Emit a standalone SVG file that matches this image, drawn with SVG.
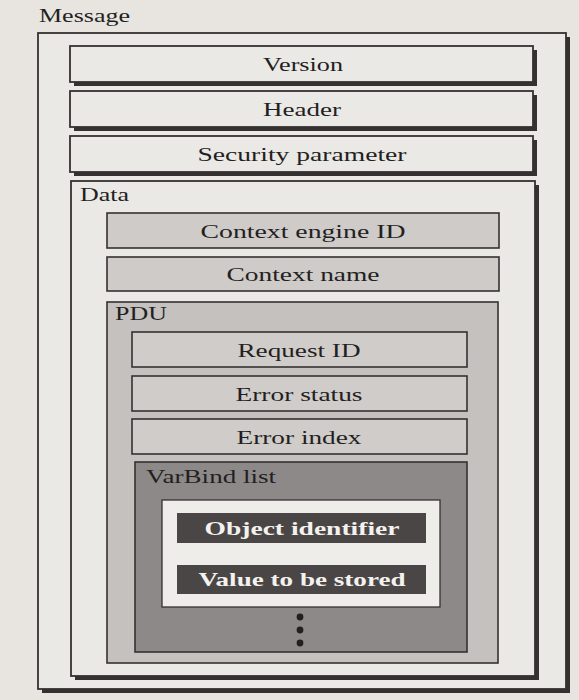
<svg xmlns="http://www.w3.org/2000/svg" width="579" height="700" viewBox="0 0 579 700">
  <defs>
    <style>
      .lbl { font-family: "Liberation Serif", "Times New Roman", serif; font-size: 19px; fill: #241f1f; }
      .ctr { text-anchor: middle; }
      .inv { font-family: "Liberation Serif", "Times New Roman", serif; font-size: 19px; font-weight: bold; fill: #f4f2ef; text-anchor: middle; }
      .shadow { fill: #363131; }
      .plain { fill: #ebe9e6; stroke: #363131; stroke-width: 1.8; }
      .tint { fill: #cecbc9; stroke: #363131; stroke-width: 1.6; }
      .pdu { fill: #c4c1bf; stroke: #363131; stroke-width: 1.6; }
      .field { fill: #cfccca; stroke: #363131; stroke-width: 1.6; }
      .varbind { fill: #8d8989; stroke: #363131; stroke-width: 1.6; }
      .pair { fill: #efedea; stroke: #363131; stroke-width: 1.3; }
      .dark { fill: #4b4646; }
      .dot { fill: #241f1f; }
    </style>
  </defs>

  <!-- paper -->
  <rect x="0" y="0" width="579" height="700" fill="#e8e5e1"/>

  <!-- labels are set in a wide face: each text is stretched 1.4x horizontally -->

  <!-- outer message frame -->
  <g id="message">
    <text class="lbl" transform="translate(39 22) scale(1.4 1)" textLength="65" lengthAdjust="spacingAndGlyphs">Message</text>
    <rect class="shadow" x="42" y="37" width="528" height="656"/>
    <rect class="plain" x="38" y="33" width="528" height="656"/>
  </g>

  <g id="version">
    <rect class="shadow" x="74" y="50" width="463" height="36"/>
    <rect class="plain" x="70" y="46" width="463" height="36"/>
    <text class="lbl ctr" transform="translate(303 71) scale(1.4 1)" textLength="57.1" lengthAdjust="spacingAndGlyphs">Version</text>
  </g>

  <g id="header">
    <rect class="shadow" x="74" y="95" width="463" height="36"/>
    <rect class="plain" x="70" y="91" width="463" height="36"/>
    <text class="lbl ctr" transform="translate(302 116) scale(1.4 1)" textLength="55.7" lengthAdjust="spacingAndGlyphs">Header</text>
  </g>

  <g id="security-parameter">
    <rect class="shadow" x="74" y="140" width="463" height="36"/>
    <rect class="plain" x="70" y="136" width="463" height="36"/>
    <text class="lbl ctr" transform="translate(302 161) scale(1.4 1)" textLength="149.3" lengthAdjust="spacingAndGlyphs">Security parameter</text>
  </g>

  <!-- data section -->
  <g id="data">
    <rect class="shadow" x="75" y="185" width="464" height="495"/>
    <rect class="plain" x="71" y="181" width="464" height="495"/>
    <text class="lbl" transform="translate(80 201) scale(1.4 1)" textLength="35" lengthAdjust="spacingAndGlyphs">Data</text>
  </g>

  <g id="context-engine-id">
    <rect class="tint" x="107" y="213" width="392" height="35"/>
    <text class="lbl ctr" transform="translate(303 238) scale(1.4 1)" textLength="146.4" lengthAdjust="spacingAndGlyphs">Context engine ID</text>
  </g>

  <g id="context-name">
    <rect class="tint" x="107" y="257" width="392" height="34"/>
    <text class="lbl ctr" transform="translate(303 281) scale(1.4 1)" textLength="109.3" lengthAdjust="spacingAndGlyphs">Context name</text>
  </g>

  <!-- PDU section -->
  <g id="pdu">
    <rect class="pdu" x="107" y="302" width="391" height="361"/>
    <text class="lbl" transform="translate(115 320) scale(1.4 1)" textLength="37.1" lengthAdjust="spacingAndGlyphs">PDU</text>
  </g>

  <g id="request-id">
    <rect class="field" x="132" y="332" width="335" height="35"/>
    <text class="lbl ctr" transform="translate(299 357) scale(1.4 1)" textLength="87.9" lengthAdjust="spacingAndGlyphs">Request ID</text>
  </g>

  <g id="error-status">
    <rect class="field" x="132" y="376" width="335" height="35"/>
    <text class="lbl ctr" transform="translate(299 401) scale(1.4 1)" textLength="90.7" lengthAdjust="spacingAndGlyphs">Error status</text>
  </g>

  <g id="error-index">
    <rect class="field" x="132" y="419" width="335" height="35"/>
    <text class="lbl ctr" transform="translate(299 444) scale(1.4 1)" textLength="89.3" lengthAdjust="spacingAndGlyphs">Error index</text>
  </g>

  <!-- variable bindings -->
  <g id="varbind-list">
    <rect class="varbind" x="135" y="462" width="332" height="190"/>
    <text class="lbl" transform="translate(146 483) scale(1.4 1)" textLength="92.9" lengthAdjust="spacingAndGlyphs">VarBind list</text>
    <rect class="pair" x="162" y="500" width="278" height="107"/>
    <circle class="dot" cx="300" cy="617" r="3.4"/>
    <circle class="dot" cx="300" cy="630" r="3.4"/>
    <circle class="dot" cx="300" cy="643" r="3.4"/>
  </g>

  <g id="object-identifier">
    <rect class="dark" x="177" y="513" width="249" height="30"/>
    <text class="inv" transform="translate(302 535) scale(1.4 1)" textLength="139.3" lengthAdjust="spacingAndGlyphs">Object identifier</text>
  </g>

  <g id="value-to-be-stored">
    <rect class="dark" x="177" y="565" width="249" height="29"/>
    <text class="inv" transform="translate(302 586) scale(1.4 1)" textLength="147.9" lengthAdjust="spacingAndGlyphs">Value to be stored</text>
  </g>
</svg>
